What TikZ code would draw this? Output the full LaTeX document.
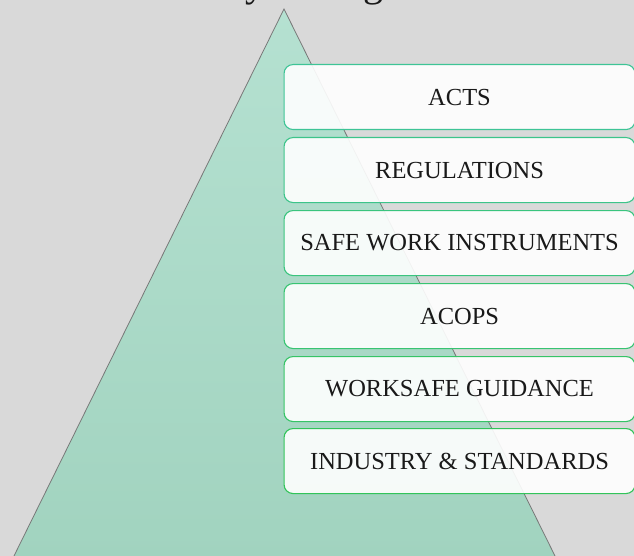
\documentclass[tikz,border=0pt]{standalone}
\usepackage{fontspec}
\setmainfont{Liberation Serif}
\definecolor{bg}{RGB}{217,217,217}
\definecolor{tritop}{RGB}{181,225,209}
\definecolor{tribot}{RGB}{161,211,191}
\definecolor{triline}{RGB}{120,120,120}
\definecolor{txt}{RGB}{25,25,25}
\tikzset{
  lvl/.style={draw=#1, line width=1.1pt, fill=white, fill opacity=0.9, text opacity=1,
    rounded corners=9pt, minimum width=351pt, minimum height=65pt, anchor=north west,
    inner sep=0pt, text=txt, font=\fontsize{24.5}{27}\selectfont},
}
\begin{document}
\begin{tikzpicture}[x=1pt,y=-1pt]
\useasboundingbox (0,0) rectangle (634,556);
\clip (0,0) rectangle (634,556);
\fill[bg] (0,0) rectangle (634,556);
\node[anchor=base, font=\fontsize{40}{44}\selectfont, text=txt] (title) at (300,-3.5) {Hierarchy of Regulation};
\shade[top color=tritop, bottom color=tribot, draw=triline, line width=0.8pt]
  (284,9) -- (557,560) -- (12,560) -- cycle;
\definecolor{b1}{RGB}{62,196,150}
\definecolor{b2}{RGB}{60,196,138}
\definecolor{b3}{RGB}{58,196,126}
\definecolor{b4}{RGB}{56,196,114}
\definecolor{b5}{RGB}{54,196,102}
\definecolor{b6}{RGB}{50,196,90}
\node[lvl=b1] (acts) at (283.5,64) {ACTS};
\node[lvl=b2] (regs) at (283.5,137) {REGULATIONS};
\node[lvl=b3] (swi) at (283.5,210) {SAFE WORK INSTRUMENTS};
\node[lvl=b4] (acops) at (283.5,283) {ACOPS};
\node[lvl=b5] (wsg) at (283.5,356) {WORKSAFE GUIDANCE};
\node[lvl=b6] (ind) at (283.5,428) {INDUSTRY \& STANDARDS};
\end{tikzpicture}
\end{document}
